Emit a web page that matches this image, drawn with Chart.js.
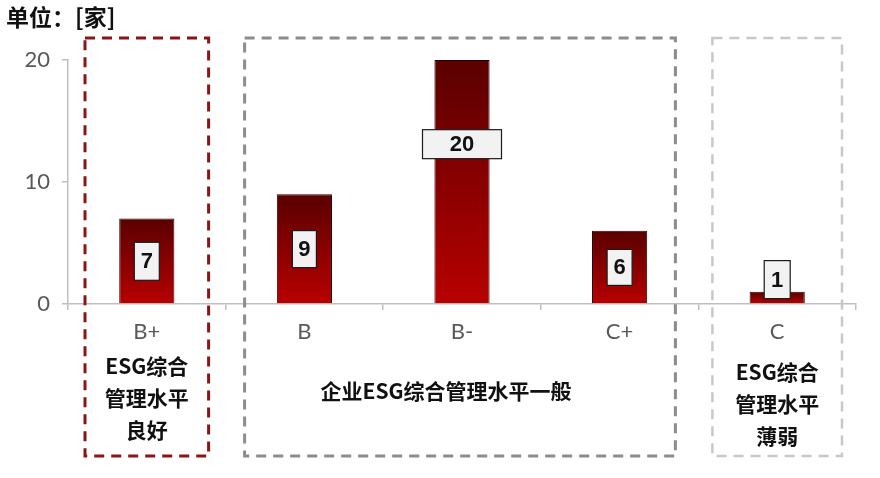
<!DOCTYPE html>
<html>
<head>
<meta charset="utf-8">
<script src="https://cdn.jsdelivr.net/npm/chart.js@4/dist/chart.umd.min.js"></script>
<style>
  html, body { margin: 0; padding: 0; background: #fff; }
  #wrap { width: 880px; height: 478px; position: relative; }
</style>
</head>
<body>
<div id="wrap"><canvas id="c"></canvas></div>
<script>
// data
const categories = ["B+", "B", "B-", "C+", "C"];
const counts = [7, 9, 20, 6, 1];
const yTicks = [0, 10, 20];
const unitTitle = "单位：[家]";
const groupNames = [
  ["ESG综合", "管理水平", "良好"],
  ["企业ESG综合管理水平一般"],
  ["ESG综合", "管理水平", "薄弱"],
];
const groupRanges = [[0, 0], [1, 3], [4, 4]]; // category index from..to

const CJK = '"Noto Sans CJK SC", "Noto Sans", sans-serif';

function barGradient(ctx) {
  const chart = ctx.chart;
  const area = chart.chartArea;
  if (!area) return "#9b0000";
  const y = chart.scales.y;
  const top = y.getPixelForValue(ctx.raw);
  const bottom = y.getPixelForValue(0);
  const g = chart.ctx.createLinearGradient(0, top, 0, bottom);
  g.addColorStop(0, "#5a0000");
  g.addColorStop(1, "#b80000");
  return g;
}

// value labels in small boxes
const boxLabels = {
  id: "boxLabels",
  afterDatasetsDraw(chart, args, opts) {
    const ctx = chart.ctx;
    const meta = chart.getDatasetMeta(0);
    const y = chart.scales.y;
    ctx.save();
    ctx.font = "bold 22px 'Liberation Sans', Arial, sans-serif";
    ctx.textAlign = "center";
    ctx.textBaseline = "middle";
    meta.data.forEach((bar, i) => {
      const v = counts[i];
      const at = opts.anchor[i] != null ? opts.anchor[i] : v / 2;
      const cy = y.getPixelForValue(at);
      const w = (opts.width[i] || 25);
      const h = (opts.height[i] || 38);
      ctx.fillStyle = "#f2f2f2";
      ctx.strokeStyle = "#1a1a1a";
      ctx.lineWidth = 1.2;
      ctx.fillRect(bar.x - w / 2, cy - h / 2, w, h);
      ctx.strokeRect(bar.x - w / 2, cy - h / 2, w, h);
      ctx.fillStyle = "#111";
      ctx.fillText(String(v), bar.x, cy + 1);
    });
    ctx.restore();
  }
};

// dashed group frames, group captions, unit title
const groups = {
  id: "groups",
  afterDraw(chart, args, opts) {
    const ctx = chart.ctx;
    const x = chart.scales.x;
    const half = (x.getPixelForValue(1) - x.getPixelForValue(0)) / 2;
    ctx.save();
    groupRanges.forEach((r, gi) => {
      const st = opts.frames[gi];
      const left = x.getPixelForValue(r[0]) - half + st.inset[0];
      const right = x.getPixelForValue(r[1]) + half - st.inset[1];
      ctx.strokeStyle = st.color;
      ctx.lineWidth = st.width;
      ctx.setLineDash([10, 7]);
      ctx.strokeRect(left, 38, right - left, 418);
      ctx.setLineDash([]);

      ctx.fillStyle = "#111";
      ctx.font = "bold 21px " + CJK;
      ctx.textAlign = "center";
      ctx.textBaseline = "middle";
      const lines = groupNames[gi];
      const cx = (left + right) / 2 + st.dx;
      const startY = st.top;
      lines.forEach((t, li) => ctx.fillText(t, cx, startY + li * 32));
    });

    ctx.fillStyle = "#111";
    ctx.font = "bold 23px " + CJK;
    ctx.textAlign = "left";
    ctx.textBaseline = "middle";
    ctx.fillText(unitTitle, 6, 17);
    ctx.restore();
  }
};

new Chart(document.getElementById("c"), {
  type: "bar",
  data: {
    labels: categories,
    datasets: [{
      data: counts,
      backgroundColor: barGradient,
      borderColor: "#2a0000",
      borderWidth: 1,
      categoryPercentage: 1,
      barPercentage: 0.35,
    }]
  },
  options: {
    responsive: true,
    maintainAspectRatio: false,
    animation: false,
    devicePixelRatio: 1,
    layout: { padding: { top: 60, right: 24, left: 0, bottom: 0 } },
    plugins: {
      legend: { display: false },
      tooltip: { enabled: false },
      boxLabels: {
        anchor: [null, null, 13.1, null, 2],
        width: [25, 24, 79, 25, 26],
        height: [38, 37, 29, 36, 38],
      },
      groups: {
        frames: [
          { color: "#8b1414", width: 3, inset: [17, 17], dx: 0, top: 366 },
          { color: "#8c8c8c", width: 3, inset: [19, 23], dx: -14, top: 391 },
          { color: "#c8c8c8", width: 2.5, inset: [14, 14], dx: 0, top: 372 },
        ]
      }
    },
    scales: {
      x: {
        afterFit(s) { s.height = 174; },
        grid: { drawOnChartArea: false, offset: true, tickLength: 6, color: "#bfbfbf", lineWidth: 1.5 },
        border: { color: "#bfbfbf", width: 1.5 },
        ticks: { color: "#595959", padding: 9, font: { family: "Lato, 'Open Sans', sans-serif", size: 22 } }
      },
      y: {
        min: 0,
        max: 20,
        afterFit(s) { s.width = 68; },
        afterBuildTicks(s) { s.ticks = yTicks.map(v => ({ value: v })); },
        grid: { drawOnChartArea: false, tickLength: 6, color: "#bfbfbf", lineWidth: 1.5 },
        border: { color: "#bfbfbf", width: 1.5 },
        ticks: { color: "#595959", padding: 12, font: { family: "Lato, 'Open Sans', sans-serif", size: 22 } }
      }
    }
  },
  plugins: [boxLabels, groups]
});
</script>
</body>
</html>
